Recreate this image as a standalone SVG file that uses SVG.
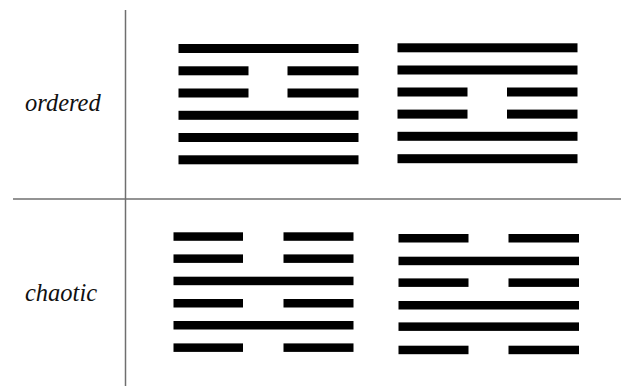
<svg xmlns="http://www.w3.org/2000/svg" width="621" height="388" viewBox="0 0 621 388">
<style>
.bar{fill:#000}
.axis{stroke:#6f6f6f;stroke-width:1.5;fill:none}
</style>
<rect width="621" height="388" fill="#fff"/>
<g id="axes">
<line class="axis" x1="125.5" y1="10" x2="125.5" y2="386"/>
<line class="axis" x1="13" y1="199" x2="621" y2="199"/>
</g>
<g id="label-ordered"><text font-family="Liberation Serif, serif" font-style="italic" font-size="24.5" fill="#111" x="25" y="111">ordered</text></g>
<g id="label-chaotic"><text font-family="Liberation Serif, serif" font-style="italic" font-size="24.5" fill="#111" x="25" y="301">chaotic</text></g>
<g id="hex-ordered-1">
<rect class="bar" x="178.5" y="44" width="180" height="9"/>
<rect class="bar" x="178.5" y="66.3" width="70" height="9"/>
<rect class="bar" x="287.5" y="66.3" width="71" height="9"/>
<rect class="bar" x="178.5" y="88.5" width="70" height="9"/>
<rect class="bar" x="287.5" y="88.5" width="71" height="9"/>
<rect class="bar" x="178.5" y="110.8" width="180" height="9"/>
<rect class="bar" x="178.5" y="133" width="180" height="9"/>
<rect class="bar" x="178.5" y="155.3" width="180" height="9"/>
</g>
<g id="hex-ordered-2">
<rect class="bar" x="397.5" y="43.3" width="180" height="9"/>
<rect class="bar" x="397.5" y="65.5" width="180" height="9"/>
<rect class="bar" x="397.5" y="87.5" width="70" height="9"/>
<rect class="bar" x="507" y="87.5" width="70.5" height="9"/>
<rect class="bar" x="397.5" y="109.6" width="70" height="9"/>
<rect class="bar" x="507" y="109.6" width="70.5" height="9"/>
<rect class="bar" x="397.5" y="131.8" width="180" height="9"/>
<rect class="bar" x="397.5" y="154.2" width="180" height="9"/>
</g>
<g id="hex-chaotic-1">
<rect class="bar" x="173.5" y="232.3" width="69.5" height="8.5"/>
<rect class="bar" x="283.5" y="232.3" width="70" height="8.5"/>
<rect class="bar" x="173.5" y="254.4" width="69.5" height="8.5"/>
<rect class="bar" x="283.5" y="254.4" width="70" height="8.5"/>
<rect class="bar" x="173.5" y="276.7" width="180" height="8.5"/>
<rect class="bar" x="173.5" y="299" width="69.5" height="8.5"/>
<rect class="bar" x="283.5" y="299" width="70" height="8.5"/>
<rect class="bar" x="173.5" y="321" width="180" height="8.5"/>
<rect class="bar" x="173.5" y="343.4" width="69.5" height="8.5"/>
<rect class="bar" x="283.5" y="343.4" width="70" height="8.5"/>
</g>
<g id="hex-chaotic-2">
<rect class="bar" x="398.5" y="234" width="70" height="8.5"/>
<rect class="bar" x="508.5" y="234" width="70.5" height="8.5"/>
<rect class="bar" x="398.5" y="256.7" width="180.5" height="8.5"/>
<rect class="bar" x="398.5" y="278.4" width="70" height="8.5"/>
<rect class="bar" x="508.5" y="278.4" width="70.5" height="8.5"/>
<rect class="bar" x="398.5" y="301" width="180.5" height="8.5"/>
<rect class="bar" x="398.5" y="322.4" width="180.5" height="8.5"/>
<rect class="bar" x="398.5" y="345.7" width="70" height="8.5"/>
<rect class="bar" x="508.5" y="345.7" width="70.5" height="8.5"/>
</g>
</svg>
